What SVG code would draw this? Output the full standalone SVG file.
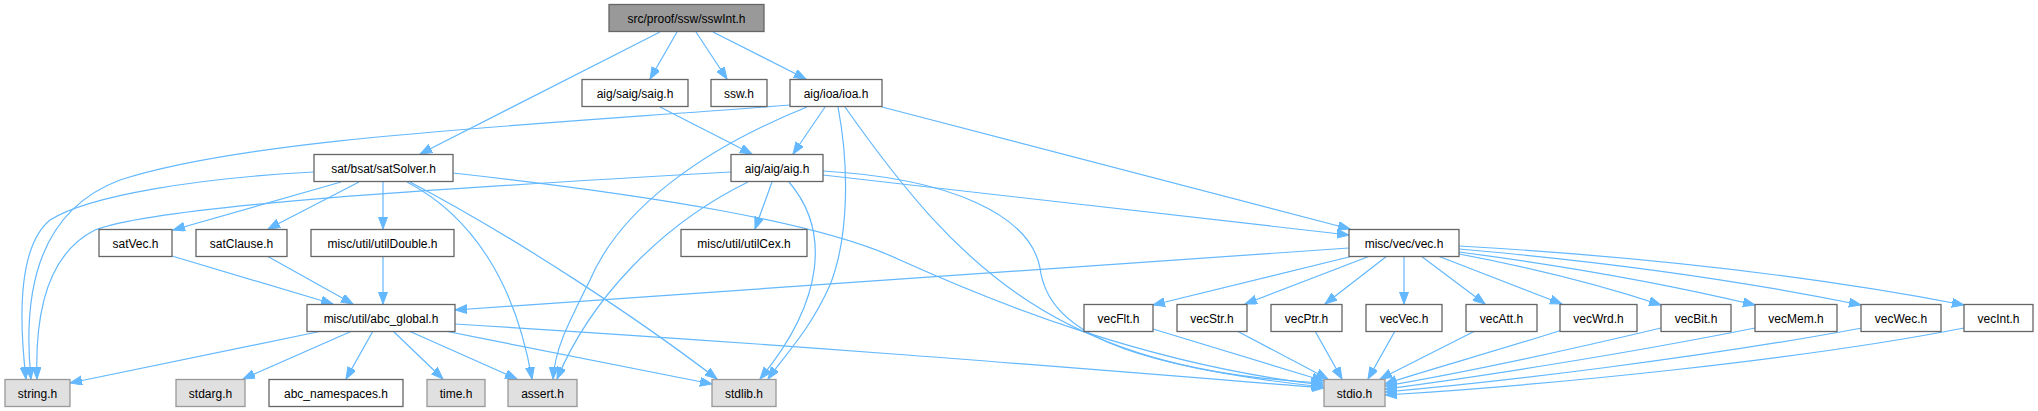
<svg xmlns="http://www.w3.org/2000/svg" width="2038" height="411" viewBox="0 0 2038 411">
<style>
.n rect{fill:#fff;stroke:#666;stroke-width:1.3}
.sys rect{fill:#e0e0e0;stroke:#999}
.main rect{fill:#999;stroke:#666}
text{font-family:"Liberation Sans",Arial,sans-serif;font-size:12px;fill:#000;text-anchor:middle}
#edges path{fill:none;stroke:#63b8ff;stroke-width:1.2;marker-end:url(#ah)}
</style>
<defs>
<marker id="ah" markerUnits="userSpaceOnUse" markerWidth="14" markerHeight="11" refX="12" refY="4.5" orient="auto">
<path d="M0,0 L12,4.5 L0,9 z" fill="#63b8ff" stroke="#63b8ff" stroke-width="1"/>
</marker>
</defs>
<rect width="2038" height="411" fill="#fff"/>
<g id="edges">
<path d="M660,32 L420,154"/>
<path d="M677,32 L650,79"/>
<path d="M696,32 L727,79"/>
<path d="M713,32 L806,79"/>
<path d="M660,107 L752,154"/>
<path d="M825,107 L793,154"/>
<path d="M790,105 C520,126 250,138 120,180 C40,210 22,290 31,379"/>
<path d="M807,107 C700,150 620,210 590,280 C565,330 555,350 553,379"/>
<path d="M838,107 C850,170 848,240 830,285 C810,330 785,355 768,379"/>
<path d="M845,107 C960,270 1060,370 1323,383"/>
<path d="M882,107 L1350,229"/>
<path d="M314,172 C200,178 90,195 50,220 C20,245 18,310 26,379"/>
<path d="M341,182 L173,230"/>
<path d="M359,182 L268,229"/>
<path d="M383,182 L383,229"/>
<path d="M407,182 C470,215 515,280 532,379"/>
<path d="M410,182 C520,240 640,320 717,379"/>
<path d="M453,173 C650,195 820,222 900,260 C1000,305 1150,365 1323,385"/>
<path d="M731,172 C450,188 160,205 95,230 C45,255 35,320 37,379"/>
<path d="M772,182 L755,229"/>
<path d="M748,182 C660,225 590,300 557,379"/>
<path d="M789,182 C830,230 825,300 760,379"/>
<path d="M823,171 C950,178 1030,215 1040,268 C1048,330 1120,365 1323,387"/>
<path d="M823,175 L1349,235"/>
<path d="M172,256 L333,304"/>
<path d="M267,256 L353,304"/>
<path d="M383,256 L383,304"/>
<path d="M1349,248 L455,310"/>
<path d="M1353,256 L1153,305"/>
<path d="M1370,256 L1245,304"/>
<path d="M1387,256 L1325,304"/>
<path d="M1404,256 L1404,304"/>
<path d="M1421,256 L1485,304"/>
<path d="M1438,256 L1562,304"/>
<path d="M1459,254 Q1570,275 1661,305"/>
<path d="M1459,252 Q1620,273 1755,305"/>
<path d="M1459,249 Q1680,268 1861,305"/>
<path d="M1459,246 Q1740,262 1964,305"/>
<path d="M322,331 L70,383"/>
<path d="M352,331 L243,379"/>
<path d="M373,331 L346,379"/>
<path d="M393,331 L443,379"/>
<path d="M409,331 L517,379"/>
<path d="M445,331 C540,350 640,370 712,384"/>
<path d="M455,324 C800,345 1100,370 1324,388"/>
<path d="M1153,329 L1324,381"/>
<path d="M1237,331 L1328,379"/>
<path d="M1315,331 L1342,379"/>
<path d="M1395,331 L1368,379"/>
<path d="M1475,331 L1380,379"/>
<path d="M1562,330 C1500,350 1420,372 1385,384"/>
<path d="M1661,328 C1560,352 1450,375 1385,386"/>
<path d="M1755,328 C1620,355 1470,378 1385,389"/>
<path d="M1862,328 C1700,358 1500,382 1385,392"/>
<path d="M1964,328 C1800,360 1550,385 1385,395"/>
</g>
<g id="sswInt" class="n main"><rect x="609" y="4.5" width="155" height="27"/><text x="686.5" y="22.5">src/proof/ssw/sswInt.h</text></g>
<g id="saig" class="n"><rect x="582" y="79.5" width="106" height="27"/><text x="635" y="97.5">aig/saig/saig.h</text></g>
<g id="ssw" class="n"><rect x="711" y="79.5" width="56" height="27"/><text x="739" y="97.5">ssw.h</text></g>
<g id="ioa" class="n"><rect x="790" y="79.5" width="92" height="27"/><text x="836" y="97.5">aig/ioa/ioa.h</text></g>
<g id="satSolver" class="n"><rect x="314" y="154.5" width="139" height="27"/><text x="383.5" y="172.5">sat/bsat/satSolver.h</text></g>
<g id="aig" class="n"><rect x="731" y="154.5" width="92" height="27"/><text x="777" y="172.5">aig/aig/aig.h</text></g>
<g id="satVec" class="n"><rect x="99" y="229.5" width="73" height="27"/><text x="135.5" y="247.5">satVec.h</text></g>
<g id="satClause" class="n"><rect x="196" y="229.5" width="91" height="27"/><text x="241.5" y="247.5">satClause.h</text></g>
<g id="utilDouble" class="n"><rect x="311" y="229.5" width="143" height="27"/><text x="382.5" y="247.5">misc/util/utilDouble.h</text></g>
<g id="utilCex" class="n"><rect x="681" y="229.5" width="126" height="27"/><text x="744" y="247.5">misc/util/utilCex.h</text></g>
<g id="vec" class="n"><rect x="1349" y="229.5" width="110" height="27"/><text x="1404" y="247.5">misc/vec/vec.h</text></g>
<g id="abc_global" class="n"><rect x="307" y="304.5" width="148" height="27"/><text x="381" y="322.5">misc/util/abc_global.h</text></g>
<g id="vecFlt" class="n"><rect x="1084" y="304.5" width="69" height="27"/><text x="1118.5" y="322.5">vecFlt.h</text></g>
<g id="vecStr" class="n"><rect x="1177" y="304.5" width="70" height="27"/><text x="1212" y="322.5">vecStr.h</text></g>
<g id="vecPtr" class="n"><rect x="1271" y="304.5" width="71" height="27"/><text x="1306.5" y="322.5">vecPtr.h</text></g>
<g id="vecVec" class="n"><rect x="1366" y="304.5" width="76" height="27"/><text x="1404" y="322.5">vecVec.h</text></g>
<g id="vecAtt" class="n"><rect x="1466" y="304.5" width="71" height="27"/><text x="1501.5" y="322.5">vecAtt.h</text></g>
<g id="vecWrd" class="n"><rect x="1560" y="304.5" width="77" height="27"/><text x="1598.5" y="322.5">vecWrd.h</text></g>
<g id="vecBit" class="n"><rect x="1661" y="304.5" width="70" height="27"/><text x="1696" y="322.5">vecBit.h</text></g>
<g id="vecMem" class="n"><rect x="1755" y="304.5" width="82" height="27"/><text x="1796" y="322.5">vecMem.h</text></g>
<g id="vecWec" class="n"><rect x="1861" y="304.5" width="80" height="27"/><text x="1901" y="322.5">vecWec.h</text></g>
<g id="vecInt" class="n"><rect x="1964" y="304.5" width="69" height="27"/><text x="1998.5" y="322.5">vecInt.h</text></g>
<g id="string" class="n sys"><rect x="5" y="379.5" width="65" height="27"/><text x="37.5" y="397.5">string.h</text></g>
<g id="stdarg" class="n sys"><rect x="176" y="379.5" width="69" height="27"/><text x="210.5" y="397.5">stdarg.h</text></g>
<g id="abc_namespaces" class="n"><rect x="269" y="379.5" width="134" height="27"/><text x="336" y="397.5">abc_namespaces.h</text></g>
<g id="time" class="n sys"><rect x="427" y="379.5" width="58" height="27"/><text x="456" y="397.5">time.h</text></g>
<g id="assert" class="n sys"><rect x="508" y="379.5" width="69" height="27"/><text x="542.5" y="397.5">assert.h</text></g>
<g id="stdlib" class="n sys"><rect x="712" y="379.5" width="64" height="27"/><text x="744" y="397.5">stdlib.h</text></g>
<g id="stdio" class="n sys"><rect x="1324" y="379.5" width="61" height="27"/><text x="1354.5" y="397.5">stdio.h</text></g>
</svg>
